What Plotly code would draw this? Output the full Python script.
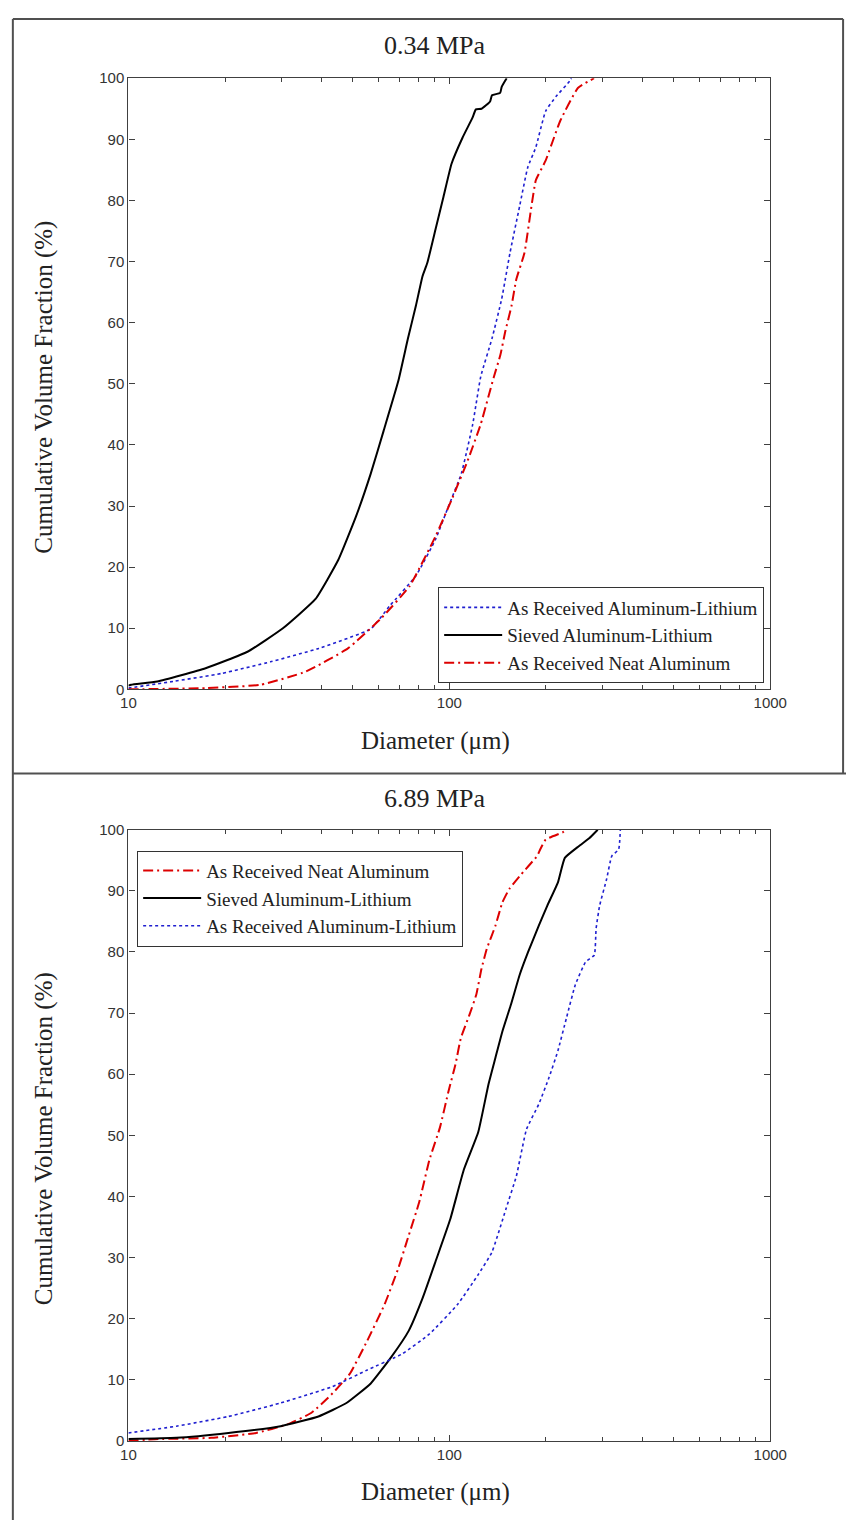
import plotly.graph_objects as go

# ---------------- Data ----------------
# Panel 1: 0.34 MPa
p1_sieved_d = [10, 10.2, 12.3, 17.4, 23.5, 30.3, 38.3, 45.1, 51.2, 56.9, 62.4, 69.3, 74.3, 78.7,
               82.5, 85.4, 90.5, 95.9, 101.6, 110, 118, 121, 126, 134, 135.8, 144, 145.6, 150.9]
p1_sieved_v = [0.6, 0.75, 1.3, 3.45, 6.15, 10, 14.8, 21.2, 28.3, 35.3, 42.3, 50.4, 57.4, 62.8,
               67.6, 69.8, 75.2, 80.6, 86, 90.3, 93.5, 94.9, 95.0, 96.2, 97.2, 97.6, 98.6, 100]

p1_ar_alli_d = [10, 13.8, 19.5, 27.7, 39.2, 56.9, 65.3, 78.7, 90.5, 99.3, 109, 118.3, 125.3,
                135.8, 145.6, 154.5, 165.5, 175.5, 186, 199.5, 215, 237, 240]
p1_ar_alli_v = [0.2, 1.3, 2.6, 4.5, 6.7, 9.9, 13.7, 18.6, 24.5, 29.9, 35.3, 43.4, 51.2,
                57.4, 63.9, 71.4, 79, 85.4, 88.7, 94.6, 97, 99.5, 100]

p1_neat_d = [10, 17.4, 25.8, 35.7, 48.3, 61, 75.2, 90.5, 101.6, 114, 125.3, 137.4, 144.2,
             149.3, 156.3, 161.7, 171.4, 179.5, 186, 199.5, 221.5, 251.5, 282.5]
p1_neat_v = [0, 0.2, 0.75, 2.9, 6.7, 11.5, 16.9, 25, 31, 37.4, 43.4, 51, 54.7,
             58.5, 62.8, 67.1, 71.4, 78.4, 83.3, 86.5, 93, 98.4, 100]

# Panel 2: 6.89 MPa
p2_neat_d = [10, 12.4, 18.1, 25, 31.3, 37.2, 43.3, 49, 55.5, 62.8, 69.3, 74.7, 80.5, 86.7,
             93.5, 99.5, 104.5, 108.6, 115.5, 121.3, 126, 130.8, 139.2, 146.3, 153.7, 165.5,
             187.6, 192, 199.6, 226, 232]
p2_neat_v = [0, 0.3, 0.5, 1.3, 2.7, 4.6, 7.8, 11, 16.4, 22.3, 28.2, 33.6, 39, 46,
             51.3, 57.3, 61.6, 65.9, 69.7, 73, 77.3, 80.5, 84.3, 88.1, 90.3, 92.4,
             95.7, 96.8, 98.4, 99.6, 100]

p2_sieved_d = [10, 14.1, 20.5, 29.8, 39.1, 47.8, 56.9, 65.9, 74.7, 82.6, 91.2, 100.7, 111, 123,
               132.5, 139.2, 146.3, 155.6, 165.5, 176, 190, 202, 218, 229, 253, 272.8, 290]
p2_sieved_v = [0.3, 0.5, 1.3, 2.4, 4, 6.2, 9.4, 13.7, 18, 23.4, 29.8, 36.3, 44.4, 50.5,
               58.4, 62.7, 67, 71.4, 76.2, 80, 84.3, 87.6, 91.4, 95.4, 97.3, 98.6, 100]

p2_ar_alli_d = [10, 14.1, 20.5, 29.8, 43.3, 55.5, 71.1, 86.7, 106, 123, 135.8, 150, 161.7, 174,
                190, 204.6, 217.8, 231.7, 246.8, 266, 283, 286.6, 294, 309, 320.8, 337, 341]
p2_ar_alli_v = [1.3, 2.4, 4, 6.2, 8.9, 11.6, 14.2, 17.5, 22.3, 27.2, 30.9, 37.9, 43.3, 51,
                55.1, 59.5, 63.8, 69.2, 74.6, 78.4, 79.5, 83.8, 87.6, 91.9, 95.7, 96.8, 100]

x_tick_vals = [10, 100, 1000]
x_tick_text = ["10", "100", "1000"]
x_minor_vals = [20, 30, 40, 50, 60, 70, 80, 90, 200, 300, 400, 500, 600, 700, 800, 900]
y_tick_vals = list(range(0, 101, 10))

titles = ["0.34 MPa", "6.89 MPa"]
x_title = "Diameter (\u03bcm)"
y_title = "Cumulative Volume Fraction (%)"
name_ar_alli = "As Received Aluminum-Lithium"
name_sieved = "Sieved Aluminum-Lithium"
name_neat = "As Received Neat Aluminum"

# ---------------- Figure ----------------
W, H = 863, 1528
def px_x(p):
    return p / W
def px_y(p):
    return 1 - p / H

BLUE = "#1f1fd0"
BLACK = "#000000"
RED = "#dd0000"
DASHDOT = "10px,4px,2px,4px"
SMOOTH = 0.4

def line(color, width, dash=None):
    d = dict(color=color, width=width, shape="spline", smoothing=SMOOTH)
    if dash:
        d["dash"] = dash
    return d

fig = go.Figure()

# Panel 1 traces (legend order: AR Al-Li, Sieved, Neat)
fig.add_trace(go.Scatter(x=p1_ar_alli_d, y=p1_ar_alli_v, mode="lines", name=name_ar_alli,
                         line=line(BLUE, 1.6, "dot"), xaxis="x", yaxis="y", legend="legend"))
fig.add_trace(go.Scatter(x=p1_sieved_d, y=p1_sieved_v, mode="lines", name=name_sieved,
                         line=line(BLACK, 2), xaxis="x", yaxis="y", legend="legend"))
fig.add_trace(go.Scatter(x=p1_neat_d, y=p1_neat_v, mode="lines", name=name_neat,
                         line=line(RED, 2, DASHDOT), xaxis="x", yaxis="y", legend="legend"))

# Panel 2 traces (legend order: Neat, Sieved, AR Al-Li)
fig.add_trace(go.Scatter(x=p2_neat_d, y=p2_neat_v, mode="lines", name=name_neat,
                         line=line(RED, 2, DASHDOT), xaxis="x2", yaxis="y2", legend="legend2"))
fig.add_trace(go.Scatter(x=p2_sieved_d, y=p2_sieved_v, mode="lines", name=name_sieved,
                         line=line(BLACK, 2), xaxis="x2", yaxis="y2", legend="legend2"))
fig.add_trace(go.Scatter(x=p2_ar_alli_d, y=p2_ar_alli_v, mode="lines", name=name_ar_alli,
                         line=line(BLUE, 1.6, "dot"), xaxis="x2", yaxis="y2", legend="legend2"))

AX = "#404040"
tickfont = dict(family="Liberation Sans, Arial, sans-serif", size=15, color="#333333")

def xaxis(anchor):
    return dict(type="log", range=[1, 3], domain=[px_x(124), px_x(785)], anchor=anchor,
                tickvals=x_tick_vals, ticktext=x_tick_text, ticks="inside", ticklen=6,
                tickcolor=AX, tickwidth=1, showline=True, linecolor=AX, linewidth=1.3,
                mirror="ticks", showgrid=False, zeroline=False, tickfont=tickfont,
                minor=dict(tickvals=x_minor_vals, ticks="inside", ticklen=4, tickcolor=AX,
                           showgrid=False))

def yaxis(anchor, top, bottom):
    return dict(range=[0, 100], domain=[px_y(bottom), px_y(top)], anchor=anchor,
                tickvals=y_tick_vals, ticks="inside", ticklen=6, tickcolor=AX, tickwidth=1,
                showline=True, linecolor=AX, linewidth=1.3, mirror="ticks", showgrid=False,
                zeroline=False, tickfont=tickfont)

serif = "Liberation Serif, Times New Roman, serif"
legend_common = dict(font=dict(family=serif, size=19, color="#222222"), bgcolor="white",
                     bordercolor="#333333", borderwidth=1, xanchor="left", yanchor="top",
                     tracegroupgap=0, itemwidth=58)

annotations = []
for t, yc in zip(titles, [37, 798]):
    annotations.append(dict(text=t, x=px_x(440), y=px_y(yc), xref="paper", yref="paper",
                            showarrow=False, xanchor="center", yanchor="middle",
                            font=dict(family=serif, size=26, color="#222222")))
for yc in [740, 1500]:
    annotations.append(dict(text=x_title, x=px_x(440), y=px_y(yc), xref="paper", yref="paper",
                            showarrow=False, xanchor="center", yanchor="middle",
                            font=dict(family=serif, size=25, color="#222222")))
for yc in [382, 1142]:
    annotations.append(dict(text=y_title, x=px_x(37), y=px_y(yc), xref="paper", yref="paper",
                            showarrow=False, xanchor="center", yanchor="middle", textangle=-90,
                            font=dict(family=serif, size=25, color="#222222")))

border = dict(color="#505050", width=2)
shapes = [
    dict(type="line", xref="paper", yref="paper", x0=px_x(5), x1=px_x(5), y0=0, y1=px_y(10), line=border),
    dict(type="line", xref="paper", yref="paper", x0=px_x(5), x1=px_x(860), y0=px_y(10), y1=px_y(10), line=border),
    dict(type="line", xref="paper", yref="paper", x0=px_x(860), x1=px_x(860), y0=px_y(773), y1=px_y(10), line=border),
    dict(type="line", xref="paper", yref="paper", x0=px_x(5), x1=1, y0=px_y(773), y1=px_y(773), line=border),
]

fig.update_layout(
    width=W, height=H, margin=dict(l=0, r=0, t=0, b=0),
    paper_bgcolor="white", plot_bgcolor="white",
    xaxis=xaxis("y"), yaxis=yaxis("x", 70, 688),
    xaxis2=xaxis("y2"), yaxis2=yaxis("x2", 830, 1448),
    legend=dict(x=px_x(443), y=px_y(585), **legend_common),
    legend2=dict(x=px_x(133), y=px_y(851), **legend_common),
    annotations=annotations, shapes=shapes, showlegend=True,
)

fig.write_html("out.html", config={"displayModeBar": False},
               post_script="document.body.style.margin='0';document.body.style.overflow='hidden';")
